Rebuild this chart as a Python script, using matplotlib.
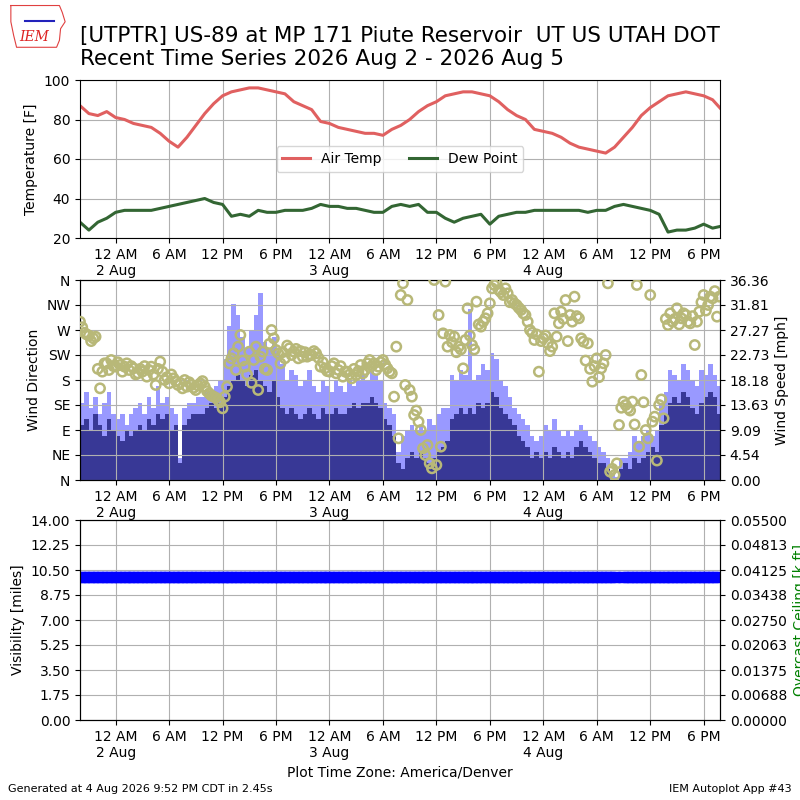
import numpy as np
import pandas as pd
import matplotlib
matplotlib.use('Agg')
import matplotlib.pyplot as plt
import matplotlib.dates as mdates
from matplotlib.ticker import FuncFormatter, FixedLocator

# hourly temperature / dew point [F], starting 1 Aug 2026 8 PM MDT
temp_start = '2026-08-01 20:00'
air_temp = [87, 83, 82, 84, 81, 80, 78, 77, 76, 73, 69, 66, 71, 77, 83, 88,
            92, 94, 95, 96, 96, 95, 94, 93, 89, 87, 85, 79, 78, 76, 75, 74,
            73, 73, 72, 75, 77, 80, 84, 87, 89, 92, 93, 94, 94, 93, 92, 89,
            85, 82, 80, 75, 74, 73, 71, 68, 66, 65, 64, 63, 66, 71, 76, 82,
            86, 89, 92, 93, 94, 93, 92, 90, 85]
dew_point = [28, 24, 28, 30, 33, 34, 34, 34, 34, 35, 36, 37, 38, 39, 40, 38,
             37, 31, 32, 31, 34, 33, 33, 34, 34, 34, 35, 37, 36, 36, 35, 35,
             34, 33, 33, 36, 37, 36, 37, 33, 33, 30, 28, 30, 31, 32, 27, 31,
             32, 33, 33, 34, 34, 34, 34, 34, 34, 33, 34, 34, 36, 37, 36, 35,
             34, 32, 23, 24, 24, 25, 27, 25, 26]

# half-hourly wind, starting 1 Aug 2026 8 PM MDT
wind_speed = [10, 11, 9, 12, 10, 8, 11, 9, 8, 7, 9, 8, 9, 10, 9, 11,
              10, 12, 11, 12, 9, 10, 3, 10, 11, 12, 12, 12, 13, 14, 13, 14,
              15, 17, 18, 19, 18, 17, 19, 20, 18, 17, 16, 18, 15, 13, 12, 13,
              12, 11, 12, 13, 12, 11, 13, 12, 12, 13, 12, 12, 13, 14, 13, 14,
              14, 15, 14, 13, 11, 10, 8, 3, 2, 4, 5, 4, 5, 4, 3, 4,
              5, 6, 7, 11, 12, 13, 12, 13, 12, 14, 13, 14, 16, 15, 13, 12,
              11, 10, 8, 7, 6, 4, 5, 4, 5, 4, 6, 5, 4, 5, 4, 6,
              7, 6, 5, 4, 3, 3, 2, 0, 0, 2, 3, 2, 4, 3, 4, 5,
              6, 5, 10, 12, 14, 15, 14, 16, 15, 13, 12, 14, 15, 16, 15, 12]
wind_gust = [14, 16, 13, 15, 12, 14, 16, 12, 11, 12, 10, 12, 13, 14, 12, 15,
             13, 17, 14, 15, 13, 12, 4, 13, 14, 14, 15, 15, 16, 16, 17, 18,
             22, 28, 32, 30, 26, 24, 27, 30, 34, 25, 24, 26, 23, 21, 18, 20,
             19, 17, 18, 20, 17, 16, 18, 17, 16, 18, 17, 16, 18, 17, 18, 19,
             18, 20, 19, 18, 14, 13, 12, 5, 8, 9, 10, 9, 10, 9, 11, 10,
             12, 13, 13, 19, 18, 20, 19, 31, 18, 19, 21, 20, 23, 22, 18, 17,
             15, 13, 12, 11, 10, 8, 7, 8, 10, 9, 11, 9, 8, 9, 8, 9,
             10, 9, 8, 7, 6, 5, 4, 1, 0.5, 4, 4, 5, 8, 7, 8, 9,
             8, 9, 14, 16, 20, 19, 18, 21, 20, 18, 17, 20, 19, 21, 19, 17]
# direction on the half hour and on the quarter past
wind_dir = [285, 265, 260, 255, 200, 195, 210, 216, 204, 207, 204, 198, 201, 192, 195, 186,
            204, 171, 213, 180, 174, 183, 171, 165, 168, 171, 162, 174, 168, 156, 150, 144,
            129, 168, 219, 198, 261, 204, 231, 216, 162, 231, 198, 270, 234, 210, 219, 237,
            231, 219, 222, 222, 225, 228, 204, 201, 195, 210, 198, 186, 195, 183, 189, 207,
            198, 216, 210, 204, 216, 201, 192, 240, 333, 171, 162, 117, 105, 57, 63, 21,
            27, 60, 357, 261, 258, 240, 201, 309, 243, 321, 276, 291, 318, 351, 342, 333,
            336, 324, 315, 306, 297, 270, 252, 195, 255, 246, 240, 258, 303, 324, 297, 330,
            291, 249, 246, 177, 219, 201, 225, 15, 9, 99, 141, 129, 141, 351, 189, 90,
            333, 114, 135, 111, 279, 285, 309, 291, 297, 282, 243, 303, 333, 315, 327, 294]
wind_dir_q = [275, 262, 250, 258, 165, 210, 198, 205, 212, 195, 210, 205, 190, 200, 205, 198,
              190, 200, 195, 185, 190, 178, 175, 180, 176, 166, 170, 178, 160, 152, 148, 140,
              150, 210, 228, 240, 215, 190, 175, 240, 222, 200, 245, 255, 228, 230, 242, 225,
              236, 232, 230, 226, 232, 220, 212, 196, 205, 192, 205, 195, 190, 200, 196, 192,
              210, 205, 198, 212, 208, 195, 150, 75, 354, 324, 150, 125, 90, 45, 30, 360,
              297, 264, 240, 248, 230, 235, 252, 260, 235, 280, 285, 300, 345, 355, 338, 345,
              320, 318, 310, 300, 285, 265, 262, 250, 260, 232, 300, 282, 290, 250, 285, 295,
              255, 215, 200, 205, 185, 210, 354, 20, 30, 130, 135, 125, 100, 60, 140, 75,
              105, 35, 145, 290, 300, 290, 280, 300, 285, 295, 285, 320, 305, 330, 340, 330]
visibility = [10.0] * 121 + [np.nan] + [10.0] * 22

title = ('[UTPTR] US-89 at MP 171 Piute Reservoir  UT US UTAH DOT\n'
         'Recent Time Series 2026 Aug 2 - 2026 Aug 5')
dir_labels = ['N', 'NE', 'E', 'SE', 'S', 'SW', 'W', 'NW', 'N']

t_hourly = pd.date_range(temp_start, periods=len(air_temp), freq='60min')
t_wind = pd.date_range(temp_start, periods=len(wind_speed), freq='30min')
t_wind_q = t_wind + pd.Timedelta(minutes=15)
xmin = pd.Timestamp('2026-08-01 20:00')
xmax = pd.Timestamp('2026-08-04 19:50')


def fmt_time(x, pos):
    d = mdates.num2date(x)
    lab = d.strftime('%I %p').lstrip('0')
    if d.hour == 0:
        lab += '\n' + d.strftime('%d %b').lstrip('0')
    return lab


def setup_time(ax):
    ax.set_xlim(xmin, xmax)
    ax.xaxis.set_major_locator(mdates.HourLocator(byhour=[0, 6, 12, 18]))
    ax.xaxis.set_major_formatter(FuncFormatter(fmt_time))
    ax.grid(True)


fig = plt.figure(figsize=(8, 8), dpi=100)

fig.text(0.1, 0.914, title, fontsize=15.5, va='bottom', ha='left')

# IEM logo, roughly
lax = fig.add_axes([0.01, 0.938, 0.075, 0.058])
lax.plot([0.05, 0.9, 0.95, 1.0, 0.92, 0.9, 0.85, 0.15, 0.1, 0.05, 0.05],
         [0.95, 0.95, 0.8, 0.6, 0.45, 0.2, 0.05, 0.05, 0.3, 0.6, 0.95],
         color='#e04040', lw=0.8)
lax.plot([0.3, 0.8], [0.62, 0.62], color='#2222bb', lw=1.5)
lax.text(0.45, 0.28, 'IEM', color='#dd2222', fontsize=10, style='italic',
         family='serif', ha='center', va='center')
lax.set_xlim(0, 1.05)
lax.set_ylim(0, 1)
lax.axis('off')

# temperature panel
ax1 = fig.add_axes([0.1, 0.7025, 0.8, 0.1975])
ax1.plot(t_hourly, air_temp, color='#e06060', lw=2.2, label='Air Temp')
ax1.plot(t_hourly, dew_point, color='#336633', lw=2.2, label='Dew Point')
ax1.set_ylim(20, 100)
ax1.set_yticks([20, 40, 60, 80, 100])
ax1.set_ylabel('Temperature [F]')
setup_time(ax1)
ax1.legend(loc='center', ncol=2, bbox_to_anchor=(0.5, 0.5))

# wind panel
ax2 = fig.add_axes([0.1, 0.4, 0.8, 0.25])
ax2b = ax2.twinx()
ax2b.bar(t_wind, wind_gust, width=1 / 48., color='#9999ff', align='edge')
ax2b.bar(t_wind, wind_speed, width=1 / 48., color='#383896', align='edge')
ax2b.set_ylim(0, 36.36)
ax2b.yaxis.set_major_locator(FixedLocator(np.linspace(0, 36.36, 9)))
ax2b.yaxis.set_major_formatter(FuncFormatter(lambda v, p: '%.2f' % v))
ax2b.set_ylabel('Wind Speed [mph]')
ax2.set_zorder(ax2b.get_zorder() + 1)
ax2.patch.set_visible(False)
for tt, dd in ((t_wind, wind_dir), (t_wind_q, wind_dir_q)):
    ax2.scatter(tt, dd, s=45, facecolors='none', edgecolors='#b8b878',
                linewidths=1.8, zorder=3)
ax2.set_ylim(0, 360)
ax2.set_yticks(range(0, 361, 45))
ax2.set_yticklabels(dir_labels)
ax2.set_ylabel('Wind Direction')
setup_time(ax2)

# visibility panel
ax3 = fig.add_axes([0.1, 0.1, 0.8, 0.25])
ax3.plot(t_wind, visibility, linestyle='none', marker='s', markersize=7,
         color='blue')
ax3.set_ylim(0, 14)
ax3.yaxis.set_major_locator(FixedLocator(np.linspace(0, 14, 9)))
ax3.yaxis.set_major_formatter(FuncFormatter(lambda v, p: '%.2f' % v))
ax3.set_ylabel('Visibility [miles]')
setup_time(ax3)
ax3b = ax3.twinx()
ax3b.set_ylim(0, 0.055)
ax3b.yaxis.set_major_locator(FixedLocator(np.linspace(0, 0.055, 9)))
ax3b.yaxis.set_major_formatter(FuncFormatter(lambda v, p: '%.5f' % v))
ax3b.set_ylabel('Overcast Ceiling [k ft]', color='green')
ax3.set_xlabel('Plot Time Zone: America/Denver')

fig.text(0.01, 0.01, 'Generated at 4 Aug 2026 9:52 PM CDT in 2.45s', fontsize=8)
fig.text(0.99, 0.01, 'IEM Autoplot App #43', fontsize=8, ha='right')

fig.savefig('out.png', dpi=100)
